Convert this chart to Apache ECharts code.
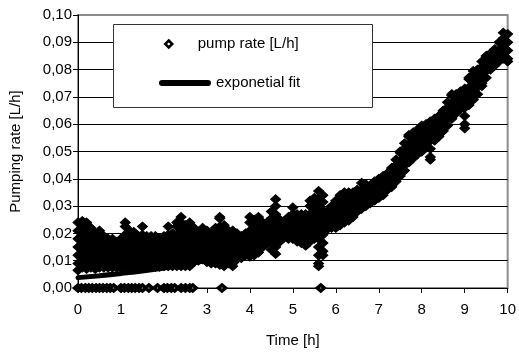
<!DOCTYPE html>
<html><head><meta charset="utf-8">
<script src="https://cdn.jsdelivr.net/npm/echarts@6/dist/echarts.min.js"></script>
<style>html,body{margin:0;padding:0;background:#fff}#c{width:519px;height:354px}</style>
</head><body><div id="c"></div>
<script>
// ---- data ----
const xTickLabels = ['0','1','2','3','4','5','6','7','8','9','10'];
const yTickLabels = ['0,00','0,01','0,02','0,03','0,04','0,05','0,06','0,07','0,08','0,09','0,10'];

// sampling times [h] of the pump-rate readings
const pumpTime = [0.0,0.1,0.2,0.3,0.4,0.5,0.6,0.7,0.8,0.9,
  1.0,1.1,1.2,1.3,1.4,1.5,1.6,1.7,1.8,1.9,
  2.0,2.1,2.2,2.3,2.4,2.5,2.6,2.7,2.8,2.9,
  3.0,3.1,3.2,3.3,3.4,3.5,3.6,3.7,3.8,3.9,
  4.0,4.1,4.2,4.3,4.4,4.5,4.6,4.7,4.8,4.9,
  5.0,5.1,5.2,5.3,5.4,5.5,5.6,5.7,5.8,5.9,
  6.0,6.1,6.2,6.3,6.4,6.5,6.6,6.7,6.8,6.9,
  7.0,7.1,7.2,7.3,7.4,7.5,7.6,7.7,7.8,7.9,
  8.0,8.1,8.2,8.3,8.4,8.5,8.6,8.7,8.8,8.9,
  9.0,9.1,9.2,9.3,9.4,9.5,9.6,9.7,9.8,9.9,10.0];

// pump rate readings [L/h] at each sampling time
const pumpRate = [
  [0.0065,0.009,0.012,0.015,0.018,0.021,0.024],
  [0.0075,0.0105,0.0135,0.0165,0.0195,0.0225,0.0245],
  [0.007,0.009,0.012,0.015,0.018,0.021,0.024],
  [0.0075,0.0105,0.0135,0.0165,0.0195,0.022],
  [0.007,0.009,0.012,0.015,0.018,0.020],
  [0.0075,0.0105,0.0135,0.0165,0.0195,0.021],
  [0.0075,0.009,0.012,0.015,0.018,0.019],
  [0.0075,0.0105,0.0135,0.0165,0.018],
  [0.0075,0.009,0.012,0.015,0.018],
  [0.0075,0.0105,0.0135,0.0165,0.017],
  [0.0075,0.009,0.012,0.015,0.018],
  [0.0075,0.0105,0.0135,0.0165,0.0195,0.0225,0.024],
  [0.0075,0.009,0.012,0.015,0.018,0.021],
  [0.0075,0.0105,0.0135,0.0165,0.0195,0.0205],
  [0.0078,0.009,0.012,0.015,0.018,0.019],
  [0.0078,0.0105,0.0135,0.0165,0.0195,0.0225],
  [0.0078,0.009,0.012,0.015,0.018,0.019],
  [0.0078,0.0105,0.0135,0.0165,0.019],
  [0.0078,0.009,0.012,0.015,0.018,0.019],
  [0.0078,0.0105,0.0135,0.0165,0.018],
  [0.008,0.009,0.012,0.015,0.018,0.019],
  [0.008,0.0105,0.0135,0.0165,0.0195,0.0225],
  [0.008,0.009,0.012,0.015,0.018,0.020],
  [0.008,0.0105,0.0135,0.0165,0.0195,0.0225,0.024],
  [0.008,0.009,0.012,0.015,0.018,0.021,0.024,0.026],
  [0.008,0.0105,0.0135,0.0165,0.0195,0.0225,0.023],
  [0.008,0.009,0.012,0.015,0.018,0.021,0.024],
  [0.0095,0.0105,0.0135,0.0165,0.0195,0.022],
  [0.010,0.012,0.015,0.018,0.0205],
  [0.0105,0.0135,0.0165,0.0195,0.022],
  [0.0095,0.012,0.015,0.018,0.021],
  [0.009,0.0105,0.0135,0.0165,0.0195,0.020],
  [0.009,0.012,0.015,0.018,0.021,0.022],
  [0.0085,0.0105,0.0135,0.0165,0.0195,0.0225,0.0255,0.026],
  [0.008,0.009,0.012,0.015,0.018,0.021,0.023],
  [0.009,0.0105,0.0135,0.0165,0.0195,0.021],
  [0.008,0.009,0.012,0.015,0.018,0.021],
  [0.0105,0.0135,0.0165,0.0195,0.020],
  [0.011,0.012,0.015,0.018,0.019],
  [0.012,0.0135,0.0165,0.0195,0.020],
  [0.0115,0.012,0.015,0.018,0.021,0.024,0.026],
  [0.012,0.0135,0.0165,0.0195,0.0225,0.025],
  [0.013,0.015,0.018,0.021,0.024,0.026],
  [0.015,0.0165,0.0195,0.0225,0.024],
  [0.0165,0.018,0.021,0.024],
  [0.014,0.0165,0.0195,0.0225,0.0255,0.028],
  [0.0125,0.015,0.018,0.021,0.024,0.027,0.030,0.0325],
  [0.017,0.0195,0.0225,0.025],
  [0.0185,0.021,0.024,0.0245],
  [0.018,0.0195,0.0225,0.0255,0.026],
  [0.018,0.021,0.024,0.027,0.0295],
  [0.017,0.0195,0.0225,0.0255,0.027],
  [0.0165,0.018,0.021,0.024,0.027],
  [0.0155,0.0165,0.0195,0.0225,0.0255,0.027],
  [0.017,0.018,0.021,0.024,0.027,0.030,0.032],
  [0.018,0.0195,0.0225,0.0255,0.0285,0.0315,0.033],
  [0.008,0.009,0.012,0.015,0.018,0.021,0.024,0.027,0.030,0.033,0.0355],
  [0.012,0.0135,0.0165,0.0195,0.0225,0.0255,0.0285,0.0315,0.034],
  [0.0215,0.024,0.027,0.028],
  [0.022,0.0255,0.0285,0.030],
  [0.022,0.024,0.027,0.030,0.032],
  [0.023,0.0255,0.0285,0.0315,0.034],
  [0.024,0.027,0.030,0.033,0.035],
  [0.0247,0.0255,0.0285,0.0315,0.0345,0.035],
  [0.026,0.027,0.030,0.033,0.035],
  [0.028,0.0285,0.0315,0.0345,0.036],
  [0.029,0.030,0.033,0.036,0.0385],
  [0.030,0.0315,0.0345,0.0375,0.038],
  [0.031,0.033,0.036,0.0375],
  [0.032,0.0345,0.0375,0.039],
  [0.033,0.036,0.039,0.040],
  [0.034,0.0375,0.0405,0.041],
  [0.036,0.039,0.042],
  [0.037,0.0375,0.0405,0.0435,0.044],
  [0.039,0.042,0.045,0.047],
  [0.041,0.0435,0.0465,0.0495,0.050],
  [0.043,0.045,0.048,0.051,0.053],
  [0.046,0.0495,0.0525,0.0555,0.056],
  [0.0475,0.051,0.054,0.057],
  [0.049,0.0525,0.0555,0.058],
  [0.050,0.051,0.054,0.057,0.0595],
  [0.0515,0.0525,0.0555,0.0585,0.060],
  [0.047,0.048,0.051,0.054,0.057,0.060,0.061],
  [0.054,0.0555,0.0585,0.0615,0.062],
  [0.0555,0.057,0.060,0.063],
  [0.0575,0.0585,0.0615,0.0645,0.065],
  [0.0595,0.063,0.066,0.068],
  [0.062,0.0645,0.0675,0.0705,0.071],
  [0.064,0.066,0.069,0.071],
  [0.0655,0.0675,0.0705,0.072],
  [0.0585,0.060,0.063,0.066,0.069,0.072,0.073],
  [0.067,0.0705,0.0735,0.0765,0.077],
  [0.069,0.072,0.075,0.078,0.0795],
  [0.071,0.0735,0.0765,0.0795,0.080],
  [0.074,0.075,0.078,0.081,0.083],
  [0.077,0.0795,0.0825,0.085],
  [0.080,0.081,0.084,0.086],
  [0.0815,0.0825,0.0855,0.0875],
  [0.083,0.084,0.087,0.090],
  [0.084,0.0855,0.0885,0.0915,0.0935],
  [0.083,0.084,0.087,0.090,0.093]
];

// readings where the pump rate was 0 L/h
const zeroTime = [0,0.08,0.17,0.25,0.33,0.42,0.5,0.58,0.67,0.75,0.83,
  1.0,1.08,1.17,1.25,1.33,1.42,1.5,1.65,1.85,
  2.0,2.08,2.17,2.25,2.4,2.5,2.6,2.67,3.35,5.65];
const zeroRate = [0,0,0,0,0,0,0,0,0,0,0,0,0,0,0,0,0,0,0,0,0,0,0,0,0,0,0,0,0,0];

// exponential fit curve
const fitTime = [0,0.5,1,1.5,2,2.5,3,3.5,4,4.5,5,5.5,6,6.5,7,7.5,8,8.5,9,9.5,10];
const fitRate = [0.0038,0.0045,0.0053,0.0062,0.0073,0.0086,0.0101,0.0119,0.014,0.0164,
  0.0193,0.0226,0.0266,0.0312,0.0366,0.043,0.0505,0.0593,0.0696,0.0817,0.0905];

// ---- build series data ----
const pumpData = [];
pumpTime.forEach((t, i) => pumpRate[i].forEach(v => pumpData.push([t, v])));
const zeroData = zeroTime.map((t, i) => [t, zeroRate[i]]);
const fitData = fitTime.map((t, i) => [t, fitRate[i]]);

const FONT = "'Liberation Sans', Arial, sans-serif";
const chart = echarts.init(document.getElementById('c'), null, {renderer: 'canvas'});
const gridColors = ['#000','#000','#000','#000','#000','#000','#000','#000','#000','#000','#8c8c8c'];

chart.setOption({
  animation: false,
  backgroundColor: '#fff',
  textStyle: {fontFamily: FONT},
  grid: {left: 78, right: 9, top: 15, bottom: 66, show: true,
    borderColor: '#8c8c8c', borderWidth: 2, backgroundColor: 'transparent'},
  xAxis: {
    type: 'value', min: 0, max: 10, interval: 1,
    name: 'Time [h]', nameLocation: 'middle', nameGap: 45,
    nameTextStyle: {fontSize: 15, color: '#000', fontFamily: FONT},
    axisLine: {show: true, onZero: false, lineStyle: {color: '#000', width: 1}},
    axisTick: {show: true, length: 5, lineStyle: {color: '#000', width: 1}},
    axisLabel: {fontSize: 15, color: '#000', fontFamily: FONT, margin: 14,
      formatter: v => xTickLabels[Math.round(v)]},
    splitLine: {show: false}
  },
  yAxis: {
    type: 'value', min: 0, max: 0.1, interval: 0.01,
    name: 'Pumping rate [L/h]', nameLocation: 'middle', nameGap: 55, nameRotate: 90,
    nameTextStyle: {fontSize: 15, color: '#000', fontFamily: FONT},
    axisLine: {show: true, onZero: false, lineStyle: {color: '#000', width: 1}},
    axisTick: {show: true, length: 5, lineStyle: {color: '#000', width: 1}},
    axisLabel: {fontSize: 15, color: '#000', fontFamily: FONT, margin: 6,
      formatter: v => yTickLabels[Math.round(v * 100)]},
    splitLine: {show: true, lineStyle: {color: gridColors, width: 1}}
  },
  graphic: [{
    type: 'rect', left: 113, top: 24, z: 3, silent: true,
    shape: {width: 259, height: 83},
    style: {fill: '#fff', stroke: '#333', lineWidth: 1}
  }],
  legend: [{
    data: [{name: 'pump rate [L/h]', icon: 'path://M4,0L8,4L4,8L0,4Z',
      itemStyle: {color: '#fff', borderColor: '#000', borderWidth: 2.5, opacity: 1}}],
    left: 164, top: 36, padding: 0, itemWidth: 48, itemHeight: 7,
    symbolKeepAspect: true, selectedMode: false, z: 5,
    textStyle: {fontSize: 15, color: '#000', fontFamily: FONT, lineHeight: 16}
  }, {
    data: [{name: 'exponetial fit', icon: 'path://M3,0L49,0A3,3,0,0,1,49,6L3,6A3,3,0,0,1,3,0Z',
      itemStyle: {color: '#000', opacity: 1}}],
    left: 159, top: 75, padding: 0, itemWidth: 52, itemHeight: 6,
    selectedMode: false, z: 5,
    textStyle: {fontSize: 15, color: '#000', fontFamily: FONT, lineHeight: 16}
  }],
  series: [{
    name: 'exponetial fit', type: 'line', data: fitData, smooth: true,
    showSymbol: false, symbol: 'none', z: 2, silent: true, color: '#000',
    lineStyle: {color: '#000', width: 5, cap: 'round', opacity: 1}
  }, {
    name: 'pump rate [L/h]', type: 'scatter', data: pumpData, z: 3, silent: true,
    symbol: 'diamond', symbolSize: [10, 9], color: '#000',
    itemStyle: {color: '#000', borderColor: '#000', borderWidth: 1, opacity: 1}
  }, {
    name: 'pump rate [L/h]', type: 'scatter', data: zeroData, z: 3, silent: true,
    symbol: 'diamond', symbolSize: [7, 6], clip: false,
    itemStyle: {color: '#fff', borderColor: '#000', borderWidth: 3.5, opacity: 1}
  }]
});
</script>
</body></html>
